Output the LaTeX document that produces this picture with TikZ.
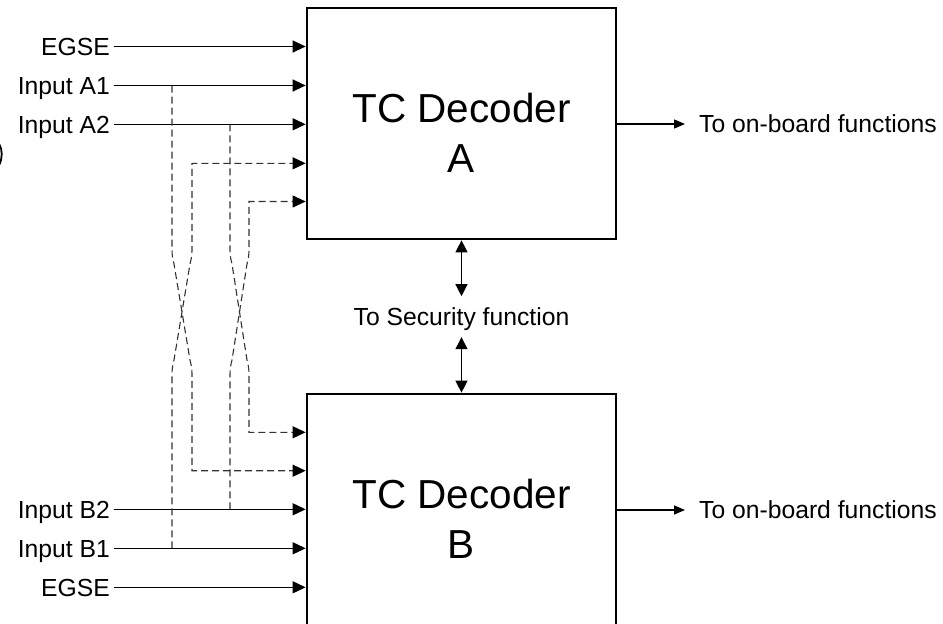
\documentclass[tikz,border=0pt]{standalone}
\usepackage{fontspec}
\setmainfont{Liberation Sans}
\usetikzlibrary{arrows.meta}
\begin{document}
\begin{tikzpicture}[x=1pt,y=-1pt,
  decoder/.style={draw, line width=2.7pt, minimum width=309pt, minimum height=231pt, inner sep=0pt},
  lbl/.style={font=\fontsize{24.7}{28}\selectfont, inner sep=0pt, text height=17.6pt, text depth=0pt},
  big/.style={font=\fontsize{40.5}{48}\selectfont, inner sep=0pt},
  feed/.style={line width=1.3pt, -{Triangle[length=13pt,width=12pt]}},
  xfeed/.style={line width=1.1pt, black!80, dash pattern=on 7pt off 4pt,
                -{Triangle[length=13pt,width=12pt,black]}},
  outarrow/.style={line width=1.3pt, -{Triangle[length=11pt,width=9pt]}, shorten >=14pt},
  secarrow/.style={line width=1.3pt, {Triangle[length=12pt,width=12pt]}-{Triangle[length=12pt,width=12pt]}}
]
\useasboundingbox (0,0) rectangle (943,624);
\clip (0,0) rectangle (943,624);

% decoder blocks
\node[decoder] (decA) at (461.5,123.5) {};
\node[decoder] (decB) at (461.5,509.5) {};
\node[big, anchor=base] (tA1) at (461.5,122.7) {TC Decoder};
\node[big, anchor=base] (tA2) at (461.5,172.3) {A};
\node[big, anchor=base] (tB1) at (461.5,508.7) {TC Decoder};
\node[big, anchor=base] (tB2) at (461.5,558.3) {B};

% partial bracket at the left edge
\draw[line width=1.8pt] (-0.8,144) .. controls (2.6,150) and (2.6,158) .. (-0.8,165);

% input labels
\node[lbl, anchor=east] (egseA) at (110,46.5) {EGSE};
\node[lbl, anchor=east] (inA1) at (110,85.5) {Input A1};
\node[lbl, anchor=east] (inA2) at (110,124.3) {Input A2};
\node[lbl, anchor=east] (inB2) at (110,509.3) {Input B2};
\node[lbl, anchor=east] (inB1) at (110,548.3) {Input B1};
\node[lbl, anchor=east] (egseB) at (110,587.3) {EGSE};

% direct inputs
\foreach \n/\d in {egseA/decA, inA1/decA, inA2/decA, inB2/decB, inB1/decB, egseB/decB}
  \draw[feed] ([xshift=3.5pt]\n.east) -- (\n.east -| \d.west);

% cross-strap taps
\coordinate (jA1) at (172,85.5);
\coordinate (jA2) at (230,124.3);
\coordinate (jB2) at (230,509.3);
\coordinate (jB1) at (172,548.3);
\coordinate (xA1) at (192,163.3);
\coordinate (xA2) at (249,201.5);
\coordinate (xB2) at (249,432.3);
\coordinate (xB1) at (192,470.7);

\draw[xfeed] (jA1) -- (172,250) .. controls (172,256) and (173,260) .. (174,264)
  -- (190,360) .. controls (191,364) and (192,368) .. (192,374) -- (xB1) -- (xB1 -| decB.west);
\draw[xfeed] (jB1) -- (172,374) .. controls (172,368) and (173,364) .. (174,360)
  -- (190,264) .. controls (191,260) and (192,256) .. (192,250) -- (xA1) -- (xA1 -| decA.west);
\draw[xfeed] (jA2) -- (230,250) .. controls (230,256) and (231,260) .. (232,264)
  -- (247,360) .. controls (248,364) and (249,368) .. (249,374) -- (xB2) -- (xB2 -| decB.west);
\draw[xfeed] (jB2) -- (230,374) .. controls (230,368) and (231,364) .. (232,360)
  -- (247,264) .. controls (248,260) and (249,256) .. (249,250) -- (xA2) -- (xA2 -| decA.west);

% outputs
\node[lbl, anchor=west] (outA) at (699,124) {To on-board functions};
\node[lbl, anchor=west] (outB) at (699,510) {To on-board functions};
\draw[outarrow] (decA.east |- outA.west) -- (outA.west);
\draw[outarrow] (decB.east |- outB.west) -- (outB.west);

% security function link
\node[lbl, anchor=base] (sec) at (461.5,325) {To Security function};
\draw[secarrow, shorten >=11pt] (decA.south) -- (sec.north);
\draw[secarrow, shorten <=12pt] (sec.south) -- (decB.north);
\end{tikzpicture}
\end{document}
